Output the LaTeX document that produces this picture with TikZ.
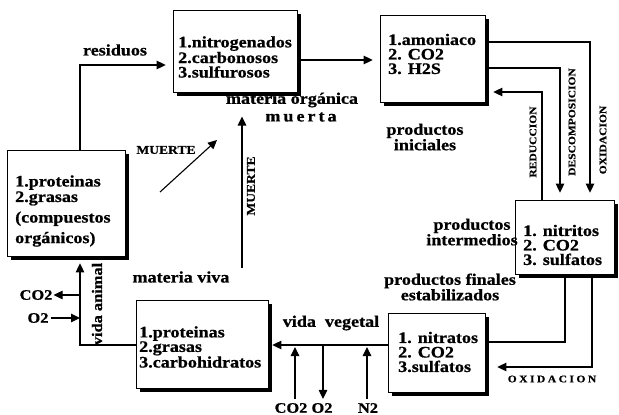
\documentclass[tikz,border=0pt]{standalone}
\usepackage{fontspec}
\setmainfont{Liberation Serif}[FakeStretch=1.13, BoldFeatures={FakeBold=0.8}]
\usetikzlibrary{arrows.meta,shadows,calc}
\newcommand\bxf{\fontsize{16}{14.5}\selectfont\bfseries}
\newcommand\lbf{\fontsize{16}{12}\selectfont\bfseries}
\newcommand\smf{\fontsize{14.5}{12}\selectfont\bfseries}
\newcommand\vaf{\fontsize{14.5}{12}\selectfont\bfseries}
\newcommand\cpf{\fontsize{10.2}{10}\selectfont\bfseries}
\newcommand\cpg{\fontsize{12}{10}\selectfont\bfseries}
\begin{document}
\begin{tikzpicture}[x=1pt,y=-1pt,
  box/.style={draw, fill=white, line width=0.7pt, inner sep=0pt,
    drop shadow={shadow xshift=4pt, shadow yshift=-4pt, fill=black, opacity=1}},
  txt/.style={anchor=west, align=left, font=\bxf, inner sep=0pt},
  arr/.style={line width=1.1pt, -{Triangle[length=9pt,width=8.5pt]}},
  ln/.style={line width=1.1pt},
  lab/.style={font=\lbf, align=center, inner sep=0pt},
  sml/.style={font=\smf, inner sep=0pt},
  capl/.style={font=\cpf, inner sep=0pt},
  capbig/.style={font=\cpg, inner sep=0pt}]
\useasboundingbox (0,0) rectangle (619,415);

% boxes
\node[box, minimum width=124pt, minimum height=82pt] (b1) at (235,51) {};
\node[txt] (t1) at (178,57) {1.nitrogenados\\2.carbonosos\\3.sulfurosos};
\node[box, minimum width=105pt, minimum height=87pt] (b2) at (432.5,58.5) {};
\node[txt] (t2) at (388,54) {1.amoniaco\\2. CO2\\3. H2S};
\node[box, minimum width=99pt, minimum height=74pt] (b3) at (564.5,237) {};
\node[txt] (t3) at (523,245) {1. nitritos\\2. CO2\\3. sulfatos};
\node[box, minimum width=97pt, minimum height=79pt] (b4) at (436.5,352.5) {};
\node[txt] (t4) at (398,352) {1. nitratos\\2. CO2\\3.sulfatos};
\node[box, minimum width=132pt, minimum height=88pt] (b5) at (202,344) {};
\node[txt] (t5) at (139,347) {1.proteinas\\2.grasas\\3.carbohidratos};
\node[box, minimum width=118pt, minimum height=106pt] (b6) at (66,203) {};
\node[txt] (t6) at (15,211) {1.proteinas\\[1pt]2.grasas\\[5pt](compuestos\\[5pt]orgánicos)};

% labels
\node[lab] (lres) at (115,50) {residuos};
\node[lab] (mo) at (292,100) {materia orgánica};
\node[lab] (mu) at (301,117) {m\kern3pt u\kern3pt e\kern3pt r\kern3pt t\kern3pt a};
\node[lab] (lpi) at (425,137) {productos\\iniciales};
\node[lab] (lpm) at (472,232) {productos\\intermedios};
\node[lab] (lpf) at (450,287) {productos finales\\estabilizados};
\node[lab] (lmv) at (181,277) {materia viva};
\node[lab] (lvv) at (331,323) {vida\hspace{9pt}vegetal};
\node[sml, rotate=90] (lva) at (97,304) {vida animal};
\node[capbig] (lm1) at (166,150) {MUERTE};
\node[capbig, rotate=90] (lm2) at (251,186) {MUERTE};
\node[capl, rotate=90] (lre) at (533,142) {REDUCCION};
\node[capl, rotate=90] (lde) at (572,122) {DESCOMPOSICION};
\node[capl, rotate=90] (lox) at (603,140) {OXIDACION};
\node[capl] (lox2) at (552,379) {O\kern2.5pt X\kern2.5pt I\kern2.5pt D\kern2.5pt A\kern2.5pt C\kern2.5pt I\kern2.5pt O\kern2.5pt N};
\node[sml] (co2a) at (36,295) {CO2};
\node[sml] (o2a) at (38,318) {O2};
\node[sml] (co2b) at (291,408) {CO2};
\node[sml] (o2b) at (322,408) {O2};
\node[sml] (n2b) at (368,408) {N2};

% connectors
\coordinate (pRes) at (80,65);
\draw[arr] (b6.north -| pRes) |- ($(b1.west |- pRes)+(-7,0)$);
\coordinate (p12) at (0,60);
\draw[arr] (b1.east |- p12) -- ($(b2.west |- p12)+(-7,0)$);
\coordinate (pOx) at (590,42);
\draw[arr] (b2.east |- pOx) -| ($(b3.north -| pOx)+(0,-7)$);
\coordinate (pDe) at (560,68);
\draw[arr] (b2.east |- pDe) -| ($(b3.north -| pDe)+(0,-7)$);
\coordinate (pRe) at (542,92);
\draw[arr] (b3.north -| pRe) |- ($(b2.east |- pRe)+(8,0)$);
\coordinate (pN) at (565,342);
\draw[ln] ($(b3.south -| pN)+(0,4)$) |- ($(b4.east |- pN)+(4,0)$);
\coordinate (pO2) at (592,367);
\draw[arr] ($(b3.south -| pO2)+(0,4)$) |- ($(b4.east |- pO2)+(12,0)$);
\coordinate (pV) at (0,345);
\draw[arr] (b4.west |- pV) -- ($(b5.east |- pV)+(4,0)$);
\coordinate (pC) at (295,347);
\draw[arr] ($(co2b.north -| pC)+(0,-4)$) -- (pC);
\coordinate (pO) at (323,345);
\draw[arr] (pO) -- ($(o2b.north -| pO)+(0,-4)$);
\coordinate (pN2) at (367,347);
\draw[arr] ($(n2b.north -| pN2)+(0,-4)$) -- (pN2);
\coordinate (pA) at (80,345);
\draw[arr] (b5.west |- pA) -| ($(b6.south -| pA)+(0,7)$);
\coordinate (pc1) at (80,295);
\draw[arr] (pc1) -- ($(co2a.east)+(1,0)$);
\coordinate (po1) at (80,318);
\draw[arr] ($(o2a.east)+(2,0)$) -- (po1);
\coordinate (pM) at (242,268);
\draw[arr] (pM) -- ($(mo.south -| pM)+(0,9)$);
\coordinate (d1) at (160,192);
\coordinate (d2) at (217,140);
\draw[arr] (d1) -- (d2);
\end{tikzpicture}
\end{document}
